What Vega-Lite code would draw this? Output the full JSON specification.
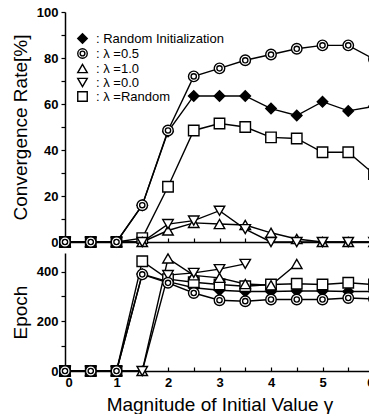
{
  "$schema": "https://vega.github.io/schema/vega-lite/v6.json",
  "background": "white",
  "padding": {"left": 11, "top": 6, "right": 0, "bottom": 0},
  "spacing": 0,
  "data": {
    "values": [
      {"g": 0, "s": "Random Initialization", "rate": 0, "epoch": 0},
      {"g": 0.5, "s": "Random Initialization", "rate": 0, "epoch": 0},
      {"g": 1, "s": "Random Initialization", "rate": 0, "epoch": 0},
      {"g": 1.5, "s": "Random Initialization", "rate": 16, "epoch": 390},
      {"g": 2, "s": "Random Initialization", "rate": 48, "epoch": 360},
      {"g": 2.5, "s": "Random Initialization", "rate": 63.5, "epoch": 335},
      {"g": 3, "s": "Random Initialization", "rate": 63.5, "epoch": 325},
      {"g": 3.5, "s": "Random Initialization", "rate": 63.5, "epoch": 320},
      {"g": 4, "s": "Random Initialization", "rate": 58, "epoch": 320},
      {"g": 4.5, "s": "Random Initialization", "rate": 55, "epoch": 322},
      {"g": 5, "s": "Random Initialization", "rate": 61, "epoch": 322},
      {"g": 5.5, "s": "Random Initialization", "rate": 57, "epoch": 320},
      {"g": 6, "s": "Random Initialization", "rate": 59, "epoch": 320},
      {"g": 0, "s": "λ =Random", "rate": 0, "epoch": 0},
      {"g": 0.5, "s": "λ =Random", "rate": 0, "epoch": 0},
      {"g": 1, "s": "λ =Random", "rate": 0, "epoch": 0},
      {"g": 1.5, "s": "λ =Random", "rate": 1.7, "epoch": 442},
      {"g": 2, "s": "λ =Random", "rate": 24, "epoch": 370},
      {"g": 2.5, "s": "λ =Random", "rate": 48.5, "epoch": 357},
      {"g": 3, "s": "λ =Random", "rate": 51.5, "epoch": 348},
      {"g": 3.5, "s": "λ =Random", "rate": 50, "epoch": 341},
      {"g": 4, "s": "λ =Random", "rate": 45.5, "epoch": 348},
      {"g": 4.5, "s": "λ =Random", "rate": 45, "epoch": 351},
      {"g": 5, "s": "λ =Random", "rate": 39, "epoch": 348},
      {"g": 5.5, "s": "λ =Random", "rate": 39, "epoch": 355},
      {"g": 6, "s": "λ =Random", "rate": 29.5, "epoch": 348},
      {"g": 0, "s": "λ =1.0", "rate": 0, "epoch": 0},
      {"g": 0.5, "s": "λ =1.0", "rate": 0, "epoch": 0},
      {"g": 1, "s": "λ =1.0", "rate": 0, "epoch": 0},
      {"g": 1.5, "s": "λ =1.0", "rate": 0, "epoch": 0},
      {"g": 2, "s": "λ =1.0", "rate": 5, "epoch": 453},
      {"g": 2.5, "s": "λ =1.0", "rate": 8.3, "epoch": 385},
      {"g": 3, "s": "λ =1.0", "rate": 7.8, "epoch": 375},
      {"g": 3.5, "s": "λ =1.0", "rate": 7.4, "epoch": 350},
      {"g": 4, "s": "λ =1.0", "rate": 4, "epoch": 345},
      {"g": 4.5, "s": "λ =1.0", "rate": 1.3, "epoch": 431},
      {"g": 5, "s": "λ =1.0", "rate": 0, "epoch": null},
      {"g": 5.5, "s": "λ =1.0", "rate": 0, "epoch": null},
      {"g": 6, "s": "λ =1.0", "rate": 0, "epoch": null},
      {"g": 0, "s": "λ =0.0", "rate": 0, "epoch": 0},
      {"g": 0.5, "s": "λ =0.0", "rate": 0, "epoch": 0},
      {"g": 1, "s": "λ =0.0", "rate": 0, "epoch": 0},
      {"g": 1.5, "s": "λ =0.0", "rate": 0, "epoch": 0},
      {"g": 2, "s": "λ =0.0", "rate": 7.8, "epoch": 386},
      {"g": 2.5, "s": "λ =0.0", "rate": 9.3, "epoch": 395},
      {"g": 3, "s": "λ =0.0", "rate": 13.6, "epoch": 410},
      {"g": 3.5, "s": "λ =0.0", "rate": 5.6, "epoch": 431},
      {"g": 4, "s": "λ =0.0", "rate": 0, "epoch": null},
      {"g": 4.5, "s": "λ =0.0", "rate": 0, "epoch": null},
      {"g": 5, "s": "λ =0.0", "rate": 0, "epoch": null},
      {"g": 5.5, "s": "λ =0.0", "rate": 0, "epoch": null},
      {"g": 6, "s": "λ =0.0", "rate": 0, "epoch": null},
      {"g": 0, "s": "λ =0.5", "rate": 0, "epoch": 0},
      {"g": 0.5, "s": "λ =0.5", "rate": 0, "epoch": 0},
      {"g": 1, "s": "λ =0.5", "rate": 0, "epoch": 0},
      {"g": 1.5, "s": "λ =0.5", "rate": 16, "epoch": 389},
      {"g": 2, "s": "λ =0.5", "rate": 48.5, "epoch": 355},
      {"g": 2.5, "s": "λ =0.5", "rate": 72, "epoch": 314},
      {"g": 3, "s": "λ =0.5", "rate": 75.5, "epoch": 285},
      {"g": 3.5, "s": "λ =0.5", "rate": 79, "epoch": 281},
      {"g": 4, "s": "λ =0.5", "rate": 81.5, "epoch": 288},
      {"g": 4.5, "s": "λ =0.5", "rate": 84, "epoch": 288},
      {"g": 5, "s": "λ =0.5", "rate": 85.5, "epoch": 288},
      {"g": 5.5, "s": "λ =0.5", "rate": 85.5, "epoch": 294},
      {"g": 6, "s": "λ =0.5", "rate": 79.5, "epoch": 290}
    ]
  },
  "vconcat": [
    {
      "width": 309,
      "height": 230,
      "encoding": {
        "x": {"field": "g", "type": "quantitative", "scale": {"domain": [0, 6], "nice": false, "zero": false},
          "axis": {"values": [0, 0.5, 1, 1.5, 2, 2.5, 3, 3.5, 4, 4.5, 5, 5.5, 6], "labels": false, "title": null, "tickSize": -4}},
        "y": {"field": "rate", "type": "quantitative", "scale": {"domain": [0, 100], "nice": false},
          "axis": {"values": [0, 10, 20, 30, 40, 50, 60, 70, 80, 90, 100], "labelExpr": "datum.value % 20 === 0 ? datum.label : ''", "title": "Convergence Rate[%]", "tickSize": 4}}
      },
      "layer": [
        {"mark": {"type": "line", "color": "black", "strokeWidth": 1.4}, "encoding": {"detail": {"field": "s"}}},
        {"mark": {"type": "point", "filled": true, "strokeWidth": 1.4, "size": 110, "opacity": 1},
          "encoding": {
            "shape": {"field": "s", "type": "nominal",
              "scale": {"domain": ["Random Initialization", "λ =0.5", "λ =1.0", "λ =0.0", "λ =Random"],
                "range": ["diamond", "M-1,0A1,1,0,1,1,1,0A1,1,0,1,1,-1,0ZM-0.5,0A0.5,0.5,0,1,1,0.5,0A0.5,0.5,0,1,1,-0.5,0Z", "triangle-up", "triangle-down", "square"]},
              "legend": {"orient": "none", "legendX": 11, "legendY": 20, "title": null, "padding": 0, "labelFontSize": 13, "symbolSize": 90, "rowPadding": -6, "labelOffset": 7, "labelExpr": "': ' + datum.label", "symbolStrokeWidth": 1.4}},
            "fill": {"field": "s", "type": "nominal",
              "scale": {"domain": ["Random Initialization", "λ =0.5", "λ =1.0", "λ =0.0", "λ =Random"],
                "range": ["black", "white", "white", "white", "white"]},
              "legend": {"orient": "none", "legendX": 11, "legendY": 20, "title": null, "padding": 0, "labelFontSize": 13, "symbolSize": 90, "rowPadding": -6, "labelOffset": 7, "labelExpr": "': ' + datum.label", "symbolStrokeWidth": 1.4}},
            "stroke": {"field": "s", "type": "nominal",
              "scale": {"domain": ["Random Initialization", "λ =0.5", "λ =1.0", "λ =0.0", "λ =Random"],
                "range": ["black", "black", "black", "black", "black"]},
              "legend": {"orient": "none", "legendX": 11, "legendY": 20, "title": null, "padding": 0, "labelFontSize": 13, "symbolSize": 90, "rowPadding": -6, "labelOffset": 7, "labelExpr": "': ' + datum.label", "symbolStrokeWidth": 1.4}}
          }}
      ]
    },
    {
      "width": 309,
      "height": 118,
      "transform": [{"filter": "datum.epoch != null"}],
      "encoding": {
        "x": {"field": "g", "type": "quantitative", "scale": {"domain": [0, 6], "nice": false, "zero": false},
          "axis": {"values": [0, 0.5, 1, 1.5, 2, 2.5, 3, 3.5, 4, 4.5, 5, 5.5, 6], "labelExpr": "datum.value % 1 === 0 ? format(datum.value, 'd') : ''", "title": "Magnitude of Initial Value γ", "tickSize": -4, "labelPadding": 9, "titlePadding": 6}},
        "y": {"field": "epoch", "type": "quantitative", "scale": {"domain": [0, 475], "nice": false},
          "axis": {"values": [0, 100, 200, 300, 400], "labelExpr": "datum.value % 200 === 0 ? datum.label : ''", "title": "Epoch", "tickSize": 4}}
      },
      "layer": [
        {"mark": {"type": "line", "color": "black", "strokeWidth": 1.4}, "encoding": {"detail": {"field": "s"}}},
        {"mark": {"type": "point", "filled": true, "strokeWidth": 1.4, "size": 110, "opacity": 1},
          "encoding": {
            "shape": {"field": "s", "type": "nominal",
              "scale": {"domain": ["Random Initialization", "λ =0.5", "λ =1.0", "λ =0.0", "λ =Random"],
                "range": ["diamond", "M-1,0A1,1,0,1,1,1,0A1,1,0,1,1,-1,0ZM-0.5,0A0.5,0.5,0,1,1,0.5,0A0.5,0.5,0,1,1,-0.5,0Z", "triangle-up", "triangle-down", "square"]},
              "legend": null},
            "fill": {"field": "s", "type": "nominal",
              "scale": {"domain": ["Random Initialization", "λ =0.5", "λ =1.0", "λ =0.0", "λ =Random"],
                "range": ["black", "white", "white", "white", "white"]},
              "legend": null},
            "stroke": {"field": "s", "type": "nominal",
              "scale": {"domain": ["Random Initialization", "λ =0.5", "λ =1.0", "λ =0.0", "λ =Random"],
                "range": ["black", "black", "black", "black", "black"]},
              "legend": null}
          }}
      ]
    }
  ],
  "resolve": {"scale": {"shape": "independent", "fill": "independent", "stroke": "independent"}, "legend": {"shape": "independent", "fill": "independent", "stroke": "independent"}},
  "config": {
    "font": "Liberation Sans",
    "view": {"stroke": null},
    "axis": {"grid": false, "domainColor": "black", "domainWidth": 1.5, "tickColor": "black", "tickWidth": 1.2, "labelColor": "black", "titleColor": "black", "labelFont": "Liberation Sans", "labelFontSize": 13, "labelFontWeight": "bold", "titleFont": "Liberation Sans", "titleFontSize": 19, "titleFontWeight": "normal", "labelPadding": 3, "titlePadding": 6},
    "legend": {"labelFont": "Liberation Sans", "labelColor": "black"}
  }
}
